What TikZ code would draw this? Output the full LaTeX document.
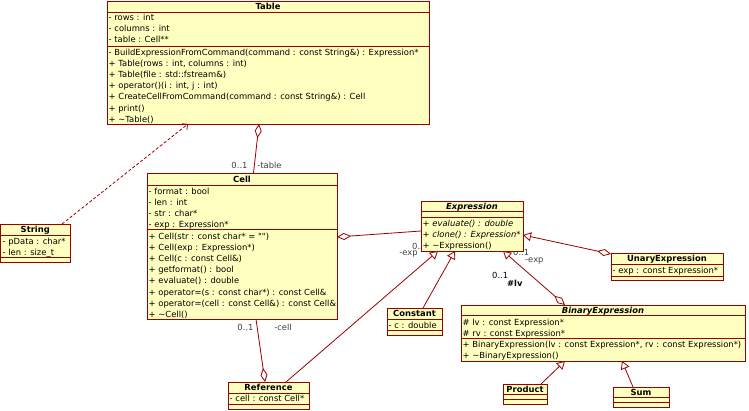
\documentclass[tikz,border=0pt]{standalone}
\usepackage{fontspec}
\newfontfamily\umlfont{DejaVu Sans}
\usetikzlibrary{arrows.meta,calc}
\definecolor{umlfill}{HTML}{FFFFC0}
\definecolor{umlline}{HTML}{990000}
\definecolor{labelgray}{HTML}{404040}

\newcommand\umlsize{\fontsize{8.4}{10}\selectfont}
\tikzset{
  classbox/.style={rectangle, draw=umlline, fill=umlfill, line width=1pt, inner sep=0pt, outer sep=0pt},
  divider/.style={draw=umlline, line width=1pt},
  classtitle/.style={font=\umlfont\umlsize\bfseries, inner sep=0pt, anchor=base},
  member/.style={font=\umlfont\umlsize, inner sep=0pt, anchor=base west},
  rolelabel/.style={font=\umlfont\umlsize, text=labelgray, inner sep=0pt},
  link/.style={draw=umlline, line width=0.8pt},
  aggregation/.style={link, {Diamond[length=14pt, width=7pt, fill=white]}-},
  generalization/.style={link, -{Triangle[length=8pt, width=9pt, fill=white]}},
  bothends/.style={link, {Diamond[length=14pt, width=7pt, fill=white]}-{Triangle[length=8pt, width=9pt, fill=white]}},
  dependency/.style={link, dash pattern=on 3pt off 2pt, -{Straight Barb[length=4pt, width=8pt]}},
}

% #1 name, #2 left, #3 top, #4 right, #5 bottom, #6 title bar bottom, #7 divider, #8 title
\newcommand\umlclass[8]{%
  \node[classbox, minimum width={(#4)-(#2)}, minimum height={(#5)-(#3)}]
    (#1) at ({((#2)+(#4))/2},{((#3)+(#5))/2}) {};
  \draw[divider] (#2,#6) -- (#4,#6);
  \draw[divider] (#2,#7) -- (#4,#7);
  \node[classtitle] (#1-title) at ({((#2)+(#4))/2},{((#3)+(#6))/2+3.2}) {#8};
}
% #1 x, #2 first baseline, #3 list of members
\newcommand\members[3]{%
  \foreach \m [count=\k from 0] in {#3} {\node[member] at (#1,{#2+11.2*\k}) {\m};}%
}

\begin{document}
\begin{tikzpicture}[x=1pt, y=-1pt]
\useasboundingbox (0,0) rectangle (749,410);

% role and multiplicity labels (partly covered by the boxes)
\node[rolelabel] (l1) at (239.5,165) {0..1};
\node[rolelabel] (l2) at (269.5,165) {-table};
\node[rolelabel, anchor=west] (l3) at (412,246.5) {0..1};
\node[rolelabel] (l4) at (408.5,254) {-exp};
\node[rolelabel, anchor=west] (l5) at (513,252.5) {0..1};
\node[rolelabel, anchor=west] (l6) at (525,261.5) {-exp};
\node[rolelabel, anchor=west, text=black] (l7) at (492,275) {0..1};
\node[rolelabel, anchor=west, text=black, font=\umlfont\umlsize\bfseries] (l8) at (507,283) {\#lv};
\node[rolelabel] (l9) at (245.5,327) {0..1};
\node[rolelabel] (l10) at (283,327) {-cell};

% classes
\umlclass{table}{107}{1}{429}{124}{12}{46}{Table}
\members{108.5}{20.3}{- rows : int, - columns : int, - table : Cell**}
\members{108.5}{55}{{- BuildExpressionFromCommand(command : const String\&) : Expression*},
  {+ Table(rows : int, columns : int)}, + Table(file : std::fstream\&),
  {+ operator()(i : int, j : int)}, + CreateCellFromCommand(command : const String\&) : Cell,
  + print(), + \textasciitilde Table()}

\umlclass{cell}{147}{173}{337}{319}{185}{229}{Cell}
\members{148.5}{194}{- format : bool, - len : int, - str : char*, - exp : Expression*}
\members{148.5}{239}{+ Cell(str : const char* = ""), + Cell(exp : Expression*), + Cell(c : const Cell\&),
  + getformat() : bool, + evaluate() : double, + operator=(s : const char*) : const Cell\&,
  + operator=(cell : const Cell\&) : const Cell\&, + \textasciitilde Cell()}

\umlclass{string}{0.5}{224}{70}{262}{235}{257}{String}
\members{2.5}{244.7}{- pData : char*, - len : size\_t}

\umlclass{expression}{421}{201}{523}{251}{211}{217}{\itshape Expression}
\members{422.5}{226.3}{{\itshape + evaluate() : double}, {\itshape + clone() : Expression*}, + \textasciitilde Expression()}

\umlclass{unary}{611}{253}{723}{280}{264}{276}{UnaryExpression}
\members{612.5}{273}{- exp : const Expression*}

\umlclass{binary}{461}{305}{745}{361}{315}{338}{\itshape BinaryExpression}
\members{462.5}{325}{\# lv : const Expression*, \# rv : const Expression*}
\members{462.5}{347.3}{{+ BinaryExpression(lv : const Expression*, rv : const Expression*)}, + \textasciitilde BinaryExpression()}

\umlclass{product}{503}{384}{547}{404}{394}{399}{Product}
\umlclass{sum}{613}{387}{669}{407}{397}{402}{Sum}

\umlclass{constant}{387}{308}{442}{335}{319}{330}{Constant}
\members{388.5}{328}{- c : double}

\umlclass{reference}{228}{382}{309}{409}{393}{404}{Reference}
\members{229.5}{401.3}{- cell : const Cell*}

% relations
\draw[dependency] ($(string.north west)+(61.5,0)$) -- ($(table.south west)+(81,0)$);
\draw[aggregation] ($(table.south west)+(152,0)$) -- ($(cell.north west)+(106.5,0)$);
\draw[aggregation] ($(cell.north east)+(0,64)$) -- ($(expression.north west)+(0,30)$);
\draw[aggregation] ($(reference.north west)+(37,0)$) -- ($(cell.south west)+(109,0)$);
\draw[generalization] ($(reference.north west)+(58,0)$) -- ($(expression.south west)+(17,0)$);
\draw[generalization] ($(constant.north west)+(36,0)$) -- ($(expression.south west)+(34,0)$);
\draw[bothends] ($(binary.north west)+(104,0)$) -- ($(expression.south west)+(82,0)$);
\draw[bothends] ($(unary.north west)+(0,1)$) -- ($(expression.north east)+(0,34)$);
\draw[generalization] ($(product.north west)+(38,0)$) -- ($(binary.south west)+(104,0)$);
\draw[generalization] ($(sum.north west)+(20,0)$) -- ($(binary.south west)+(161,0)$);
\end{tikzpicture}
\end{document}
